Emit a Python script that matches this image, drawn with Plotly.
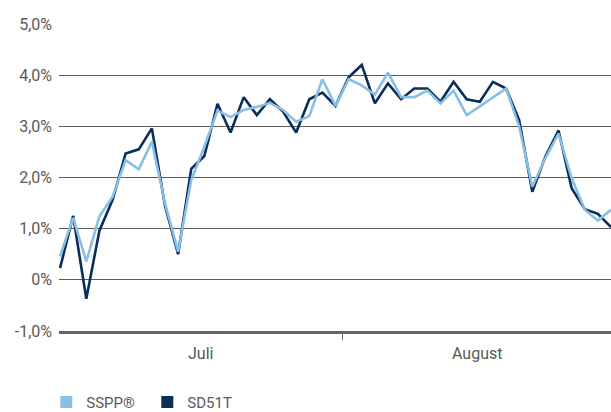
import plotly.graph_objects as go

# Data (daily values, % )
day_index = list(range(43))
sd51t = [0.23, 1.25, -0.37, 0.96, 1.56, 2.47, 2.55, 2.96, 1.45, 0.50,
         2.17, 2.42, 3.44, 2.88, 3.57, 3.22, 3.53, 3.29, 2.88, 3.53,
         3.66, 3.40, 3.96, 4.20, 3.45, 3.84, 3.53, 3.74, 3.74, 3.48,
         3.87, 3.53, 3.48, 3.87, 3.74, 3.12, 1.72, 2.41, 2.92, 1.79,
         1.38, 1.29, 1.03]
sspp = [0.46, 1.21, 0.36, 1.24, 1.62, 2.34, 2.16, 2.70, 1.50, 0.55,
        1.95, 2.60, 3.31, 3.18, 3.32, 3.38, 3.46, 3.32, 3.09, 3.20,
        3.92, 3.40, 3.92, 3.80, 3.62, 4.05, 3.57, 3.57, 3.70, 3.45,
        3.70, 3.22, 3.39, 3.56, 3.74, 3.00, 1.82, 2.38, 2.86, 1.99,
        1.37, 1.16, 1.37]
month_labels = ["Juli", "August"]
month_centers = [10.7, 31.75]
month_boundary = [21.5]
y_tickvals = [-1, 0, 1, 2, 3, 4, 5]
y_ticktext = ["-1,0%", "0%", "1,0%", "2,0%", "3,0%", "4,0%", "5,0%"]

LIGHT = "#88BFE5"
DARK = "#0B2D5B"
GREY = "#595959"
FONT = "Roboto"

fig = go.Figure()
fig.add_trace(go.Scatter(x=day_index, y=sd51t, mode="lines", name="SD51T",
                         line=dict(color=DARK, width=2.6), showlegend=False))
fig.add_trace(go.Scatter(x=day_index, y=sspp, mode="lines", name="SSPP®",
                         line=dict(color=LIGHT, width=2.6), showlegend=False))
# legend entries (square markers)
fig.add_trace(go.Scatter(x=[None], y=[None], mode="markers", name="SSPP®",
                         marker=dict(symbol="square", size=12, color=LIGHT)))
fig.add_trace(go.Scatter(x=[None], y=[None], mode="markers", name="SD51T",
                         marker=dict(symbol="square", size=12, color=DARK)))

for lab, xc in zip(month_labels, month_centers):
    fig.add_annotation(x=xc, y=-0.072, xref="x", yref="paper", text=lab,
                       showarrow=False, yanchor="middle",
                       font=dict(family=FONT, size=16, color=GREY))

fig.update_layout(
    width=611, height=412,
    margin=dict(l=59, r=0, t=24, b=81, autoexpand=False),
    paper_bgcolor="white", plot_bgcolor="white",
    font=dict(family=FONT, size=16, color=GREY),
    legend=dict(orientation="h", x=-0.023, xanchor="left", y=-0.232, yanchor="middle",
                font=dict(family=FONT, size=15, color=GREY),
                entrywidth=56, entrywidthmode="pixels", itemclick=False),
    xaxis=dict(range=[-0.08, 42], showgrid=False, zeroline=False,
               showline=True, linecolor="#666666", linewidth=3,
               tickmode="array", tickvals=month_boundary, showticklabels=False,
               ticks="outside", ticklen=6, tickcolor="#666666", tickwidth=1),
    yaxis=dict(range=[-1, 5], tickmode="array", tickvals=y_tickvals, ticktext=y_ticktext,
               showgrid=True, gridcolor="#5a5a5a", gridwidth=1.2, zeroline=False,
               showline=False, ticks="", ticklabelstandoff=6,
               tickfont=dict(family=FONT, size=16, color=GREY)),
)

fig.write_html("out.html", config={"displayModeBar": False},
               post_script="document.body.style.margin='0';document.body.style.overflow='hidden';")
